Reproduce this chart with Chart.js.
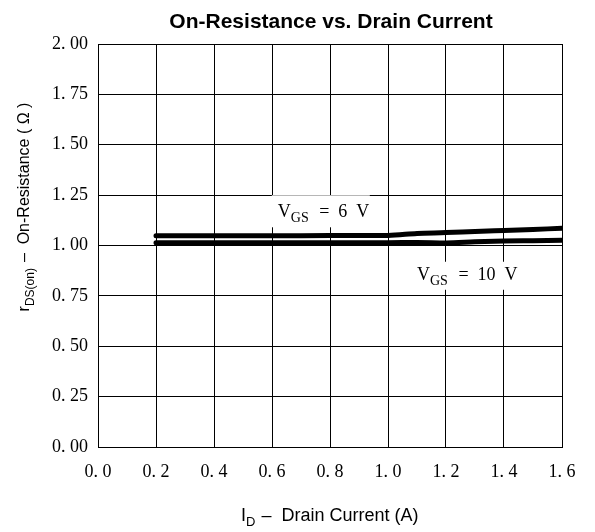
<!DOCTYPE html>
<html>
<head>
<meta charset="utf-8">
<script src="https://cdn.jsdelivr.net/npm/chart.js@4"></script>
<style>
  html, body { margin: 0; padding: 0; background: #fff; }
  #wrap { width: 595px; height: 532px; }
</style>
</head>
<body>
<div id="wrap"><canvas id="chart" width="595" height="532"></canvas></div>
<script>
// values
const drainCurrent = [0.2, 0.4, 0.6, 0.8, 1.0, 1.1, 1.2, 1.3, 1.4, 1.5, 1.6];
const rdsVgs6 = [1.048, 1.048, 1.048, 1.050, 1.050, 1.060, 1.064, 1.070, 1.075, 1.080, 1.085];
const rdsVgs10 = [1.014, 1.014, 1.014, 1.014, 1.014, 1.015, 1.013, 1.018, 1.022, 1.024, 1.026];
const xTickLabels = ['0. 0', '0. 2', '0. 4', '0. 6', '0. 8', '1. 0', '1. 2', '1. 4', '1. 6'];
const yTickLabels = ['0. 00', '0. 25', '0. 50', '0. 75', '1. 00', '1. 25', '1. 50', '1. 75', '2. 00'];
const chartTitle = 'On-Resistance vs. Drain Current';

const serif = "'Liberation Serif', 'DejaVu Serif', serif";
const sans = "'Liberation Sans', Arial, sans-serif";

// text with a subscript, drawn piece by piece
function drawSubText(ctx, x, y, parts) {
    let cx = x;
    parts.forEach(p => {
        ctx.font = p.font;
        ctx.fillText(p.text, cx, y + (p.dy || 0));
        cx += ctx.measureText(p.text).width + (p.gap || 0);
    });
    return cx - x;
}

function measureSubText(ctx, parts) {
    let w = 0;
    parts.forEach(p => {
        ctx.font = p.font;
        w += ctx.measureText(p.text).width + (p.gap || 0);
    });
    return w;
}

const annotations = {
    id: 'annotations',
    afterDraw(chart) {
        const ctx = chart.ctx;
        const xs = chart.scales.x;
        const ys = chart.scales.y;
        ctx.save();
        ctx.fillStyle = '#000';
        ctx.textBaseline = 'alphabetic';

        // title, centred a little right of the canvas middle as in the source
        ctx.font = 'bold 21px ' + sans;
        ctx.textAlign = 'center';
        ctx.fillText(chartTitle, 331, 28);
        ctx.textAlign = 'left';

        // curve labels, white box behind
        const curveLabels = [
            { x: 0.62, y: 1.14, rest: ' =  6  V', box: [-6, -22, 98, 32] },
            { x: 1.10, y: 0.83, rest: ' =  10  V', box: [-12, -18, 120, 28] }
        ];
        curveLabels.forEach(l => {
            const px = xs.getPixelForValue(l.x);
            const py = ys.getPixelForValue(l.y);
            ctx.fillStyle = '#fff';
            ctx.fillRect(px + l.box[0], py + l.box[1], l.box[2], l.box[3]);
            ctx.fillStyle = '#000';
            drawSubText(ctx, px, py, [
                { text: 'V', font: '18px ' + serif },
                { text: 'GS', font: '14px ' + serif, dy: 5, gap: 6 },
                { text: l.rest, font: '18px ' + serif }
            ]);
        });

        // x axis title
        const xParts = [
            { text: 'I', font: '18px ' + sans },
            { text: 'D', font: '13px ' + sans, dy: 5, gap: 6 },
            { text: '\u2013  Drain Current (A)', font: '18px ' + sans }
        ];
        drawSubText(ctx, 241, 521, xParts);

        // y axis title, rotated
        const yParts = [
            { text: 'r', font: '16px ' + sans },
            { text: 'DS(on)', font: '12px ' + sans, dy: 5, gap: 6 },
            { text: '\u2013  On-Resistance ( \u03a9 )', font: '16px ' + sans }
        ];
        const yw = measureSubText(ctx, yParts);
        ctx.translate(29, 207);
        ctx.rotate(-Math.PI / 2);
        drawSubText(ctx, -yw / 2, 0, yParts);
        ctx.restore();
    }
};

new Chart(document.getElementById('chart'), {
    type: 'line',
    data: {
        datasets: [
            {
                label: 'VGS = 6 V',
                data: drainCurrent.map((x, i) => ({ x: x, y: rdsVgs6[i] })),
                borderColor: '#000',
                borderWidth: 5,
                pointRadius: 0,
                tension: 0.3,
                cubicInterpolationMode: 'monotone',
                borderCapStyle: 'round'
            },
            {
                label: 'VGS = 10 V',
                data: drainCurrent.map((x, i) => ({ x: x, y: rdsVgs10[i] })),
                borderColor: '#000',
                borderWidth: 5,
                pointRadius: 0,
                tension: 0.3,
                cubicInterpolationMode: 'monotone',
                borderCapStyle: 'round'
            }
        ]
    },
    options: {
        responsive: false,
        animation: false,
        layout: { padding: { left: 0, right: 33, top: 44, bottom: 0 } },
        plugins: {
            legend: { display: false },
            tooltip: { enabled: false },
            title: { display: false }
        },
        scales: {
            x: {
                type: 'linear',
                min: 0,
                max: 1.6,
                afterFit: s => { s.height = 85; },
                grid: { color: '#000', lineWidth: 1, drawTicks: false },
                border: { color: '#000', width: 1 },
                ticks: {
                    stepSize: 0.2,
                    padding: 14,
                    color: '#000',
                    maxRotation: 0,
                    font: { family: serif, size: 18 },
                    callback: (v, i) => xTickLabels[i]
                }
            },
            y: {
                min: 0,
                max: 2,
                afterFit: s => { s.width = 98; },
                grid: { color: '#000', lineWidth: 1, drawTicks: false },
                border: { color: '#000', width: 1 },
                ticks: {
                    stepSize: 0.25,
                    padding: 10,
                    color: '#000',
                    font: { family: serif, size: 18 },
                    callback: (v, i) => yTickLabels[i]
                }
            }
        }
    },
    plugins: [annotations]
});
</script>
</body>
</html>
